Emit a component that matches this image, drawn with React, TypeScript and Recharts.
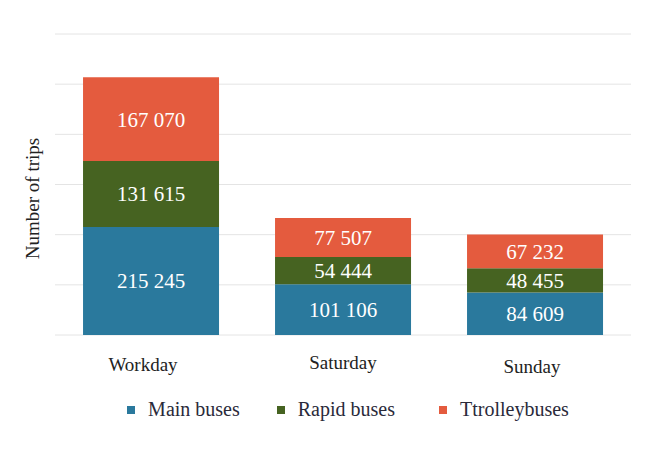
import React from 'react';
import { BarChart, Bar, XAxis, YAxis, CartesianGrid, LabelList, Legend } from 'recharts';

const categories = ['Workday', 'Saturday', 'Sunday'];
const mainBuses = [215245, 101106, 84609];
const rapidBuses = [131615, 54444, 48455];
const trolleybuses = [167070, 77507, 67232];
const yTicks = [0, 100000, 200000, 300000, 400000, 500000, 600000];

const seriesNames = ['Main buses', 'Rapid buses', 'Ttrolleybuses'];
const COLORS = ['#2A799D', '#466321', '#E45B3E'];
const FONT = '"Liberation Serif", serif';
const TICK_NUDGE: Record<string, [number, number]> = { Workday: [-8, 0], Saturday: [0, -2], Sunday: [-3, 2] };
const LEGEND_GAPS = [37, 44, 0];

const data = categories.map((c, i) => ({
  name: c,
  main: mainBuses[i],
  rapid: rapidBuses[i],
  trolley: trolleybuses[i],
}));

const fmt = (v: any) => String(v).replace(/\B(?=(\d{3})+(?!\d))/g, ' ');

const XTick = (props: any) => {
  const { x, y, payload } = props;
  const n = TICK_NUDGE[payload.value] || [0, 0];
  return (
    <text x={x + n[0]} y={y + n[1] + 21} textAnchor="middle" dominantBaseline="central" fill="#222" fontSize={19} style={{ fontFamily: FONT }}>
      {payload.value}
    </text>
  );
};

const LegendContent = () => (
  <div style={{ display: 'flex', justifyContent: 'center', alignItems: 'center', fontFamily: FONT, fontSize: 20, color: '#2a2a3a' }}>
    {seriesNames.map((n, i) => (
      <div key={n} style={{ display: 'flex', alignItems: 'center', marginRight: LEGEND_GAPS[i] }}>
        <span style={{ display: 'inline-block', width: 8, height: 8, background: COLORS[i], marginRight: 13 }} />
        <span>{n}</span>
      </div>
    ))}
  </div>
);

const YLabel = (props: any) => {
  const vb = props.viewBox || { x: 0, y: 34, width: 55, height: 300 };
  const cx = 32;
  const cy = vb.y + vb.height / 2 + 14;
  return (
    <text x={cx} y={cy} transform={`rotate(-90, ${cx}, ${cy})`} textAnchor="middle" dominantBaseline="central" fill="#222" fontSize={19} style={{ fontFamily: FONT }}>
      Number of trips
    </text>
  );
};

const EmptyTick = () => <g />;

export default function App() {
  return (
    <div style={{ position: 'absolute', left: 0, top: 0, width: 650, height: 453, background: '#fff', fontFamily: FONT }}>
      <BarChart width={650} height={453} data={data} margin={{ top: 34, right: 19, left: 0, bottom: 52 }} barCategoryGap="14.6%" style={{ fontFamily: FONT }}>
        <CartesianGrid horizontal vertical={false} stroke="#e4e4e4" />
        <YAxis domain={[0, 600000]} ticks={yTicks} width={55} tick={<EmptyTick />} axisLine={false} tickLine={false} label={<YLabel />} />
        <XAxis dataKey="name" axisLine={false} tickLine={false} tick={<XTick />} height={40} />
        <Legend verticalAlign="bottom" content={<LegendContent />} wrapperStyle={{ top: 398, left: 60, width: 576, height: 26 }} />
        <Bar dataKey="main" stackId="a" fill={COLORS[0]} isAnimationActive={false}>
          <LabelList dataKey="main" position="center" fill="#fff" fontSize={21} style={{ fontFamily: FONT }} formatter={fmt} />
        </Bar>
        <Bar dataKey="rapid" stackId="a" fill={COLORS[1]} isAnimationActive={false}>
          <LabelList dataKey="rapid" position="center" fill="#fff" fontSize={21} style={{ fontFamily: FONT }} formatter={fmt} />
        </Bar>
        <Bar dataKey="trolley" stackId="a" fill={COLORS[2]} isAnimationActive={false}>
          <LabelList dataKey="trolley" position="center" fill="#fff" fontSize={21} style={{ fontFamily: FONT }} formatter={fmt} />
        </Bar>
      </BarChart>
    </div>
  );
}
